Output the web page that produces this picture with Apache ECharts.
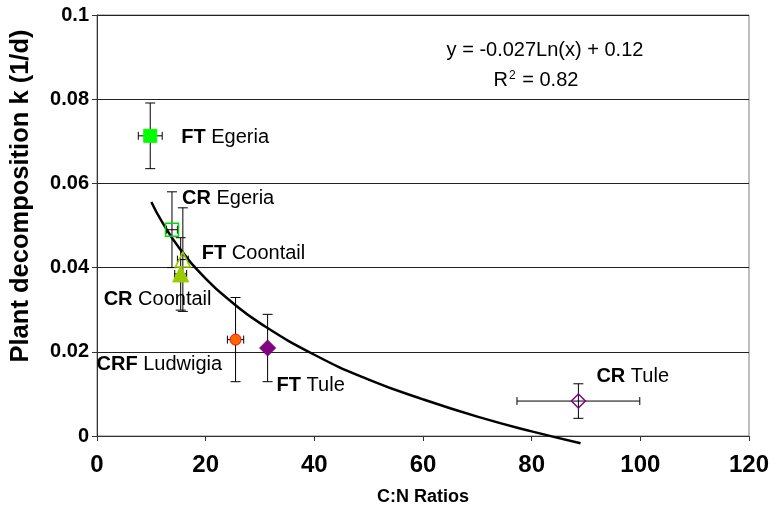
<!DOCTYPE html>
<html>
<head>
<meta charset="utf-8">
<script src="https://cdn.jsdelivr.net/npm/echarts@6/dist/echarts.min.js"></script>
<style>
html,body{margin:0;padding:0;background:#fff;}
#chart{width:776px;height:512px;}
</style>
</head>
<body>
<div id="chart"></div>
<script>
// ---- data ----
const categories = ['FT Egeria', 'CR Egeria', 'FT Coontail', 'CR Coontail', 'CRF Ludwigia', 'FT Tule', 'CR Tule'];
const cnRatio   = [9.8, 13.8, 15.8, 15.4, 25.5, 31.4, 88.6];
const decayK    = [0.0713, 0.049, 0.0419, 0.0385, 0.0229, 0.0209, 0.0083];
const cnError   = [2.2, 1.0, 1.0, 1.1, 1.5, 0.5, 11.3];
const kError    = [0.0078, 0.009, 0.0123, 0.0086, 0.0100, 0.0080, 0.0041];

const trendX = [10, 12, 15, 20, 25, 30, 40, 50, 60, 70, 80, 89];
const trendK = [0.0556, 0.0508, 0.0449, 0.0374, 0.0316, 0.0268, 0.0193, 0.0134, 0.0087, 0.0046, 0.0011, -0.0017];

const xTicks = [0, 20, 40, 60, 80, 100, 120];
const yTickLabels = ['0', '0.02', '0.04', '0.06', '0.08', '0.1'];

const xTitle = 'C:N Ratios';
const yTitle = 'Plant decomposition k (1/d)';
const equationText = 'y = -0.027Ln(x) + 0.12';
const r2Value = '0.82';

// ---- styles ----
const FONT = '"Liberation Sans", Arial, sans-serif';
const markerStyles = [
  {symbol: 'rect', size: 13, color: '#00FF00', border: '#00FF00', bw: 1},
  {symbol: 'rect', size: 13, color: 'rgba(255,255,255,0)', border: '#00DD00', bw: 1.5},
  {symbol: 'triangle', size: 15, color: 'rgba(255,255,255,0)', border: '#99CC00', bw: 1.5},
  {symbol: 'triangle', size: 16, color: '#99CC00', border: '#99CC00', bw: 1},
  {symbol: 'circle', size: 11, color: '#FF6600', border: '#FF0000', bw: 1},
  {symbol: 'diamond', size: 16, color: '#800080', border: '#800080', bw: 1},
  {symbol: 'diamond', size: 14, color: 'rgba(255,255,255,0)', border: '#800080', bw: 1.5}
];
const labelOffsets = [[31, 2], [10, -31], [19, -6], [-77, 26], [-139, 25], [9, 37], [18, -25]];

const chart = echarts.init(document.getElementById('chart'), null, {renderer: 'canvas'});

const pointData = categories.map((name, i) => ({
  name: name,
  value: [cnRatio[i], decayK[i]],
  symbol: markerStyles[i].symbol,
  symbolSize: markerStyles[i].size,
  itemStyle: {opacity: 1, color: markerStyles[i].color, borderColor: markerStyles[i].border, borderWidth: markerStyles[i].bw},
  label: {
    show: true,
    position: 'inside',
    align: 'left',
    verticalAlign: 'middle',
    offset: labelOffsets[i],
    formatter: function () {
      const parts = name.split(' ');
      return '{b|' + parts[0] + '}{n| ' + parts.slice(1).join(' ') + '}';
    },
    color: '#000',
    opacity: 1,
    textBorderWidth: 0,
    fontFamily: FONT,
    fontSize: 20,
    rich: {
      b: {fontWeight: 'bold', fontFamily: FONT, fontSize: 20, color: '#000', textBorderWidth: 0},
      n: {fontFamily: FONT, fontSize: 20, color: '#000', textBorderWidth: 0}
    }
  }
}));

const errData = categories.map((n, i) => [cnRatio[i], decayK[i], cnError[i], kError[i]]);

const option = {
  backgroundColor: '#fff',
  animation: false,
  grid: {left: 97, right: 27, top: 15, bottom: 76, show: true, borderColor: '#808080', borderWidth: 1,
    containLabel: false, outerBoundsMode: 'none'},
  xAxis: {
    type: 'value', min: 0, max: 120, interval: 20,
    name: xTitle, nameLocation: 'middle', nameGap: 52,
    nameTextStyle: {fontFamily: FONT, fontWeight: 'bold', fontSize: 18, color: '#000'},
    axisLine: {show: true, onZero: false, lineStyle: {color: '#333', width: 1}},
    axisTick: {show: true, inside: false, length: 5, lineStyle: {color: '#333'}},
    axisLabel: {fontFamily: FONT, fontWeight: 'bold', fontSize: 24, color: '#000', margin: 17,
      formatter: v => String(xTicks[xTicks.indexOf(v)])},
    splitLine: {show: false}
  },
  yAxis: {
    type: 'value', min: 0, max: 0.1, interval: 0.02,
    axisLine: {show: true, lineStyle: {color: '#333', width: 1}},
    axisTick: {show: true, inside: false, length: 5, lineStyle: {color: '#333'}},
    axisLabel: {fontFamily: FONT, fontWeight: 'bold', fontSize: 20, color: '#000', margin: 8,
      formatter: v => yTickLabels[Math.round(v / 0.02)]},
    splitLine: {show: true, lineStyle: {color: '#222', width: 1}}
  },
  graphic: [
    {type: 'text', x: 21, y: 196, rotation: Math.PI / 2,
      style: {text: yTitle, fontFamily: FONT, fontWeight: 'bold', fontSize: 25.5, fill: '#000', align: 'center', verticalAlign: 'middle'}},
    {type: 'text', x: 545, y: 50, style: {text: equationText, fontFamily: FONT, fontSize: 20, fill: '#000', align: 'center', verticalAlign: 'middle'}},
    {type: 'text', x: 536, y: 80, style: {
      text: '{a|R}{s|2}{a| = ' + r2Value + '}',
      align: 'center', verticalAlign: 'middle',
      rich: {
        a: {fontFamily: FONT, fontSize: 20, fill: '#000', color: '#000', verticalAlign: 'bottom'},
        s: {fontFamily: FONT, fontSize: 12, fill: '#000', color: '#000', verticalAlign: 'top', padding: [0, 1, 9, 1]}
      }
    }}
  ],
  series: [
    {
      type: 'line', data: trendX.map((x, i) => [x, trendK[i]]), smooth: true, showSymbol: false,
      clip: false, lineStyle: {color: '#000', width: 2.5}, z: 3, silent: true
    },
    {
      type: 'custom', data: errData, clip: false, z: 4,
      renderItem: function (params, api) {
        const x = api.value(0), y = api.value(1), ex = api.value(2), ey = api.value(3);
        const top = api.coord([x, y + ey]), bot = api.coord([x, y - ey]);
        const l = api.coord([x - ex, y]), r = api.coord([x + ex, y]);
        const st = {stroke: '#000', lineWidth: 1};
        const cw = 5, ch = 4;
        const kids = [
          {type: 'line', shape: {x1: top[0], y1: top[1], x2: bot[0], y2: bot[1]}, style: st},
          {type: 'line', shape: {x1: top[0] - cw, y1: top[1], x2: top[0] + cw, y2: top[1]}, style: st},
          {type: 'line', shape: {x1: bot[0] - cw, y1: bot[1], x2: bot[0] + cw, y2: bot[1]}, style: st}
        ];
        if (ex > 0) {
          kids.push({type: 'line', shape: {x1: l[0], y1: l[1], x2: r[0], y2: r[1]}, style: st});
          kids.push({type: 'line', shape: {x1: l[0], y1: l[1] - ch, x2: l[0], y2: l[1] + ch}, style: st});
          kids.push({type: 'line', shape: {x1: r[0], y1: r[1] - ch, x2: r[0], y2: r[1] + ch}, style: st});
        }
        return {type: 'group', children: kids};
      }
    },
    {
      type: 'scatter', data: pointData, z: 5
    }
  ]
};
chart.setOption(option);
</script>
</body>
</html>
